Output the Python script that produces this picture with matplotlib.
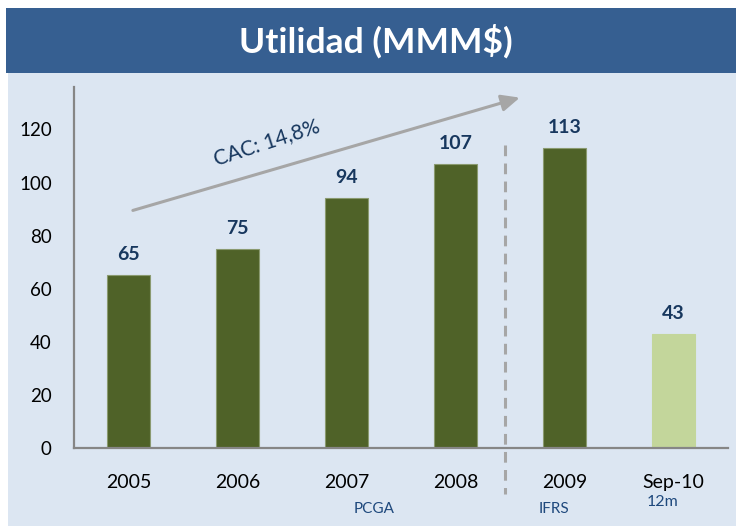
import matplotlib
matplotlib.use("Agg")
import matplotlib.pyplot as plt
from matplotlib.patches import Rectangle

categories = ["2005", "2006", "2007", "2008", "2009", "Sep-10"]
values = [65, 75, 94, 107, 113, 43]
yticks = [0, 20, 40, 60, 80, 100, 120]
title = "Utilidad (MMM$)"
cac_label = "CAC: 14,8%"

plt.rcParams['font.family'] = ['Lato', 'DejaVu Sans']

W, H = 736, 526
fig = plt.figure(figsize=(W / 100, H / 100), dpi=100)
fig.patch.set_facecolor("white")

# background panels
fig.patches.append(Rectangle((8 / W, 0), 1 - 8 / W, 1 - 73 / H, transform=fig.transFigure,
                             facecolor="#dce6f2", edgecolor="none", zorder=-10))
fig.patches.append(Rectangle((6 / W, 1 - 73 / H), 1 - 6 / W, 65 / H, transform=fig.transFigure,
                             facecolor="#365f91", edgecolor="none", zorder=-10))
fig.text(376 / W, 1 - 41 / H, title, color="white", fontsize=25.5, fontweight="bold",
         ha="center", va="center")

ax = fig.add_axes([74 / W, 1 - 448 / H, (728 - 74) / W, (448 - 87) / H])
ax.set_facecolor("none")
ax.set_zorder(1)

x = list(range(len(categories)))
colors = ["#4f6228"] * 5 + ["#c3d69b"]
edges = ["#8a9a70"] * 5 + ["#c3d69b"]
ax.bar(x, values, width=0.39, color=colors, edgecolor=edges, linewidth=0.8, zorder=2)
for xi, v in zip(x, values):
    ax.text(xi, v + 7.8, str(v), ha="center", va="center", fontsize=14, fontweight="bold",
            color="#17375e")

ax.set_xlim(-0.5, 5.5)
ax.set_ylim(0, 136)
ax.set_yticks(yticks)
ax.set_xticks(x)
ax.set_xticklabels(categories)
ax.tick_params(axis="y", length=0, pad=16, labelsize=13.5, labelcolor="black")
ax.tick_params(axis="x", length=0, pad=19, labelsize=14, labelcolor="black")
for s in ["top", "right"]:
    ax.spines[s].set_visible(False)
for s in ["left", "bottom"]:
    ax.spines[s].set_color("#868686")
    ax.spines[s].set_linewidth(1.6)

# growth arrow
ax.annotate("", xy=(3.59, 132), xytext=(0.04, 89.5),
            arrowprops=dict(arrowstyle="-|>,head_length=1.1,head_width=0.5", color="#a6a6a6",
                            lw=2.2, shrinkA=0, shrinkB=0), zorder=3)
ax.text(1.27, 115, cac_label, rotation=18, ha="center", va="center", fontsize=15,
        color="#17375e", rotation_mode="anchor")

# dashed separator
ax.plot([3.45, 3.45], [114, -17.5], linestyle=(0, (3.5, 2.4)), color="#a6a6a6", lw=2.2,
        clip_on=False, zorder=1)

# sub labels
ax.text(2.25, -23, "PCGA", ha="center", va="center", fontsize=11, color="#1f497d")
ax.text(3.9, -23, "IFRS", ha="center", va="center", fontsize=11, color="#1f497d")
ax.text(4.75, -20.3, "12m", ha="left", va="center", fontsize=11.5, color="#1f497d")

fig.savefig("out.png", dpi=100, facecolor=fig.get_facecolor())
